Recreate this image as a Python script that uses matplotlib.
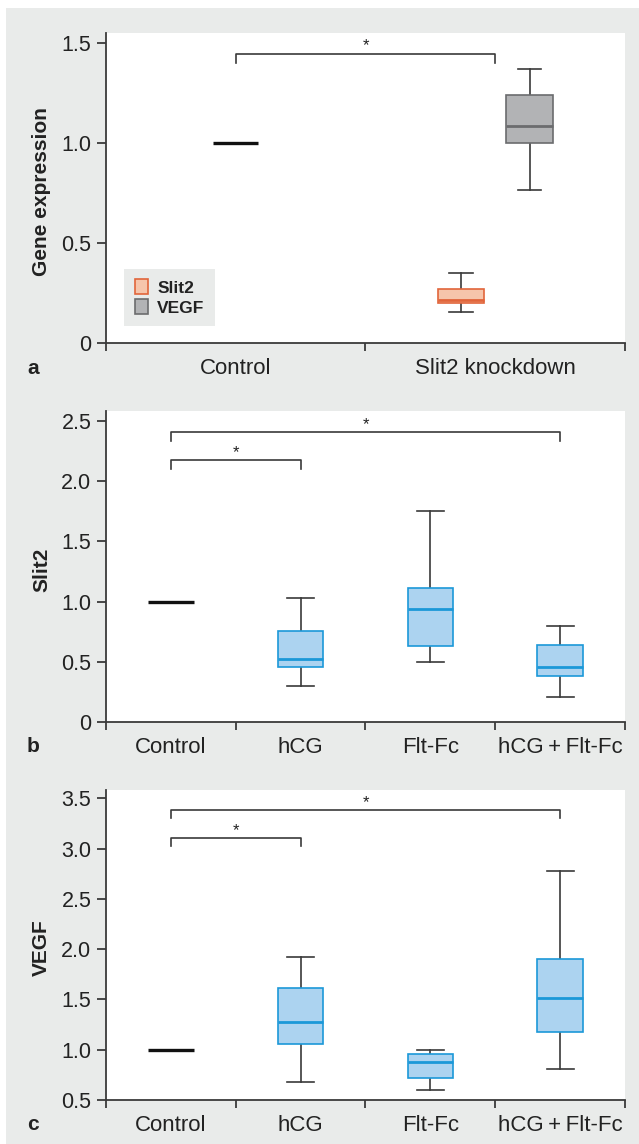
import matplotlib
matplotlib.use('Agg')
import matplotlib.pyplot as plt
from matplotlib.patches import Rectangle, Patch
from matplotlib.ticker import FuncFormatter

FONT = ['Liberation Sans', 'DejaVu Sans']
plt.rcParams['font.family'] = FONT

# ---------------- data ----------------
# Panel a
a_categories = ['Control', 'Slit2 knockdown']
a_control = 1.0
a_genes = ['Slit2', 'VEGF']
a_whislo = [0.155, 0.765]
a_q1 = [0.198, 1.000]
a_med = [0.215, 1.085]
a_q3 = [0.272, 1.238]
a_whishi = [0.352, 1.372]
a_yticks = [0, 0.5, 1.0, 1.5]
a_ylim = (0, 1.55)
a_brackets = [(0, 1, 1.447, 1.40)]
a_ylabel = 'Gene expression'

# Panel b
b_categories = ['Control', 'hCG', 'Flt-Fc', 'hCG\u2009+\u2009Flt-Fc']
b_control = 1.0
b_whislo = [0.30, 0.50, 0.205]
b_q1 = [0.460, 0.630, 0.384]
b_med = [0.522, 0.936, 0.456]
b_q3 = [0.754, 1.116, 0.641]
b_whishi = [1.03, 1.754, 0.796]
b_yticks = [0, 0.5, 1.0, 1.5, 2.0, 2.5]
b_ylim = (0, 2.583)
b_brackets = [(0, 1, 2.177, 2.10), (0, 3, 2.409, 2.334)]
b_ylabel = 'Slit2'

# Panel c
c_categories = ['Control', 'hCG', 'Flt-Fc', 'hCG\u2009+\u2009Flt-Fc']
c_control = 1.0
c_whislo = [0.682, 0.600, 0.808]
c_q1 = [1.057, 0.715, 1.180]
c_med = [1.279, 0.878, 1.511]
c_q3 = [1.617, 0.961, 1.902]
c_whishi = [1.919, 0.997, 2.780]
c_yticks = [0.5, 1.0, 1.5, 2.0, 2.5, 3.0, 3.5]
c_ylim = (0.5, 3.583)
c_brackets = [(0, 1, 3.109, 3.026), (0, 3, 3.387, 3.30)]
c_ylabel = 'VEGF'

# ---------------- style ----------------
BG = '#e9ebea'
AXC = '#3a3a3a'
TXT = '#222222'
FS = 16
FS_Y = 15.5
FS_LAB = 15
BLUE_FILL = '#acd3f0'
BLUE_EDGE = '#1b98d8'
ORANGE_FILL = '#f6c5ab'
ORANGE_EDGE = '#e1653b'
GRAY_FILL = '#b2b3b5'
GRAY_EDGE = '#6b6c6e'

W, H = 639, 1144
fig = plt.figure(figsize=(W / 100, H / 100), dpi=100)
fig.patch.set_facecolor('white')
fig.patches.append(Rectangle((6 / W, 0), 1 - 6 / W, 1 - 8 / H,
                             transform=fig.transFigure, facecolor=BG,
                             edgecolor='none', zorder=-10))


def fig_axes(top_px, bottom_px):
    left, right = 106, 625
    return fig.add_axes([left / W, 1 - bottom_px / H, (right - left) / W,
                         (bottom_px - top_px) / H])


def yfmt(v, pos):
    return '0' if abs(v) < 1e-9 else f'{v:.1f}'


def style_axes(ax, categories, yticks, ylim, ylabel):
    n = len(categories)
    ax.set_facecolor('white')
    ax.set_xlim(0, n)
    ax.set_ylim(*ylim)
    for s in ['top', 'right']:
        ax.spines[s].set_visible(False)
    for s in ['left', 'bottom']:
        ax.spines[s].set_color(AXC)
        ax.spines[s].set_linewidth(1.3)
    ax.set_xticks(range(n + 1))
    ax.set_xticklabels([])
    ax.set_xticks([i + 0.5 for i in range(n)], minor=True)
    ax.set_xticklabels(categories, minor=True, fontsize=FS, color=TXT)
    ax.tick_params(axis='x', which='major', direction='out', length=6,
                   width=1.3, color=AXC)
    ax.tick_params(axis='x', which='minor', length=0, pad=10.5)
    ax.set_yticks(yticks)
    ax.yaxis.set_major_formatter(FuncFormatter(yfmt))
    ax.tick_params(axis='y', direction='out', length=6.5, width=1.3,
                   color=AXC, labelsize=FS_Y, labelcolor=TXT, pad=4)
    ax.set_ylabel(ylabel, fontsize=FS_LAB, fontweight='bold', color=TXT)
    ax.yaxis.set_label_coords(-0.106, 0.49)


def draw_control(ax, value, pos, width):
    ax.hlines([value], pos - width / 2, pos + width / 2, color='#111111',
              linewidth=2.4, zorder=3)


def draw_boxes(ax, positions, width, whislo, q1, med, q3, whishi, fills,
               edges, capw):
    stats = []
    for lo, a, m, b, hi in zip(whislo, q1, med, q3, whishi):
        stats.append(dict(whislo=lo, q1=a, med=m, q3=b, whishi=hi,
                          fliers=[]))
    res = ax.bxp(stats, positions=positions, widths=width, patch_artist=True,
                 showfliers=False, capwidths=capw,
                 whiskerprops=dict(color=AXC, linewidth=1.2),
                 capprops=dict(color=AXC, linewidth=1.2),
                 manage_ticks=False)
    for box, med_line, fc, ec in zip(res['boxes'], res['medians'], fills, edges):
        box.set_facecolor(fc)
        box.set_edgecolor(ec)
        box.set_linewidth(1.2)
        box.set_zorder(3)
        med_line.set_color(ec)
        med_line.set_linewidth(2.0)
        med_line.set_zorder(4)


def draw_brackets(ax, brackets):
    for i, j, ytop, ydrop in brackets:
        x1, x2 = i + 0.5, j + 0.5
        ax.plot([x1, x1, x2, x2], [ydrop, ytop, ytop, ydrop], color=AXC,
                linewidth=1.2, clip_on=False)
        ax.text((x1 + x2) / 2, ytop, '*', ha='center', va='bottom',
                fontsize=12, color=TXT)


# Panel a
ax_a = fig_axes(33, 343)
style_axes(ax_a, a_categories, a_yticks, a_ylim, a_ylabel)
draw_control(ax_a, a_control, 0.5, 0.175)
draw_boxes(ax_a, [1.5 - 0.132, 1.5 + 0.132], 0.18, a_whislo, a_q1, a_med,
           a_q3, a_whishi, [ORANGE_FILL, GRAY_FILL], [ORANGE_EDGE, GRAY_EDGE],
           0.09)
draw_brackets(ax_a, a_brackets)
handles = [Patch(facecolor=ORANGE_FILL, edgecolor=ORANGE_EDGE, linewidth=1.2,
                 label=a_genes[0]),
           Patch(facecolor=GRAY_FILL, edgecolor=GRAY_EDGE, linewidth=1.2,
                 label=a_genes[1])]
leg = ax_a.legend(handles=handles, loc='lower left',
                  bbox_to_anchor=(0.035, 0.055), borderaxespad=0,
                  frameon=True, facecolor=BG, edgecolor='none', framealpha=1,
                  fancybox=False, handlelength=0.8, handleheight=0.95,
                  handletextpad=0.5, labelspacing=0.2, borderpad=0.6,
                  prop=dict(family=FONT, weight='bold', size=12.5))
for t in leg.get_texts():
    t.set_color(TXT)

# Panel b
ax_b = fig_axes(411, 722)
style_axes(ax_b, b_categories, b_yticks, b_ylim, b_ylabel)
draw_control(ax_b, b_control, 0.5, 0.35)
draw_boxes(ax_b, [1.5, 2.5, 3.5], 0.35, b_whislo, b_q1, b_med, b_q3, b_whishi,
           [BLUE_FILL] * 3, [BLUE_EDGE] * 3, 0.21)
draw_brackets(ax_b, b_brackets)

# Panel c
ax_c = fig_axes(790, 1100)
style_axes(ax_c, c_categories, c_yticks, c_ylim, c_ylabel)
draw_control(ax_c, c_control, 0.5, 0.35)
draw_boxes(ax_c, [1.5, 2.5, 3.5], 0.35, c_whislo, c_q1, c_med, c_q3, c_whishi,
           [BLUE_FILL] * 3, [BLUE_EDGE] * 3, 0.21)
draw_brackets(ax_c, c_brackets)

for letter, ypx in [('a', 368), ('b', 746), ('c', 1125)]:
    fig.text(33 / W, 1 - ypx / H, letter, ha='center', va='center',
             fontsize=FS_LAB, fontweight='bold', color=TXT)

fig.savefig('out.png', dpi=100, facecolor=fig.get_facecolor())
